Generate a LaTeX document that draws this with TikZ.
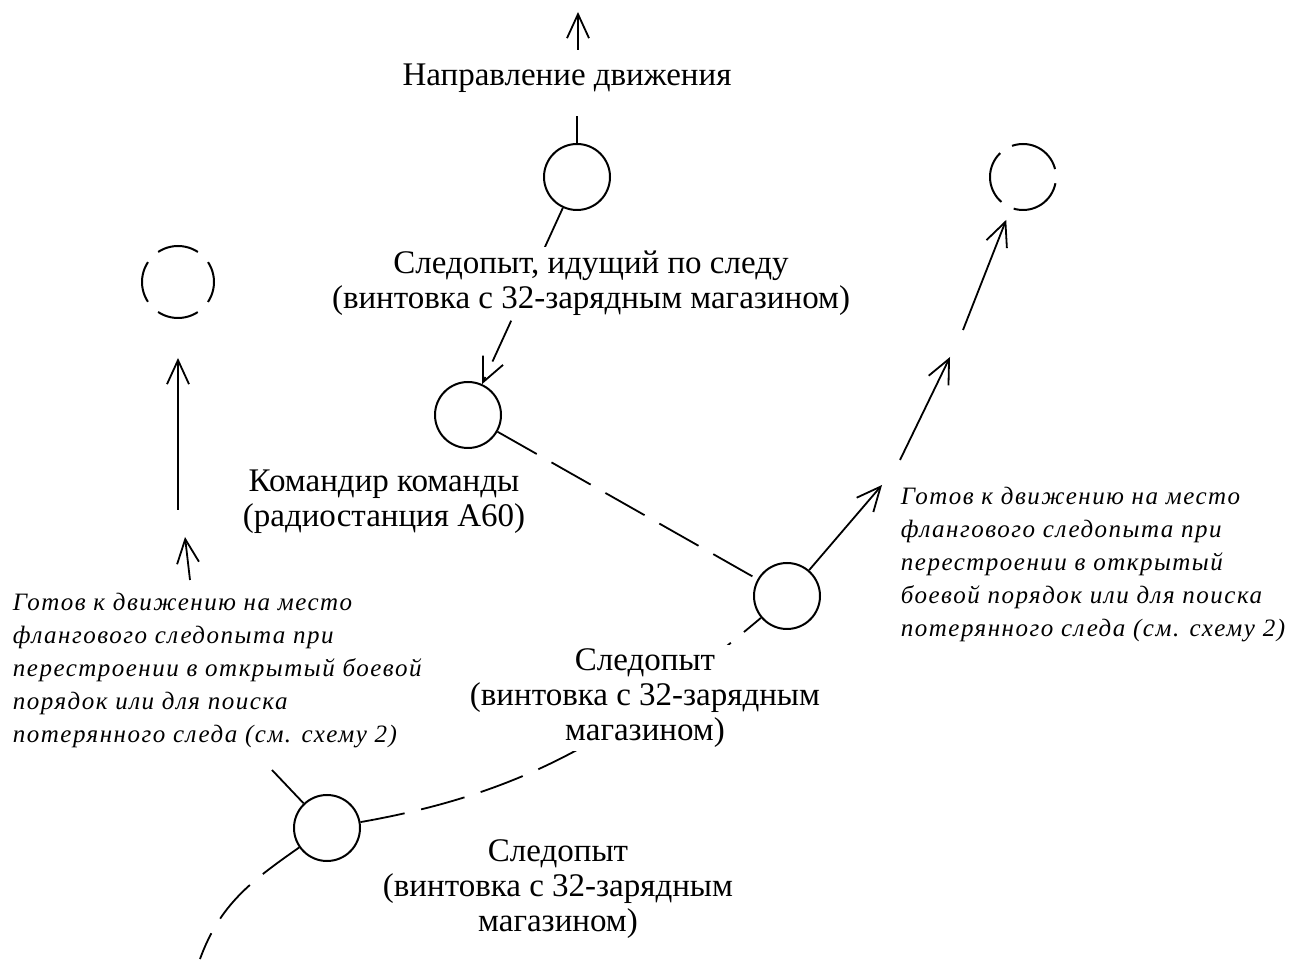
\documentclass[tikz,border=0pt]{standalone}
\usepackage{fontspec}
\setmainfont{Liberation Serif}
\newfontfamily\notefont{Liberation Serif Italic}[LetterSpace=6]
\usetikzlibrary{arrows.meta}

\tikzset{
  man/.style={draw, circle, line width=2pt, minimum size=66pt, inner sep=0pt},
  ghost/.style={man, dash pattern=on 42pt off 14.5pt, dash phase=21pt},
  trail/.style={dash pattern=on 45pt off 17pt},
  arr/.style={-{Straight Barb[length=24pt,width=22pt]}},
  lbl/.style={font=\fontsize{33}{35}\selectfont, align=center, fill=white, inner sep=4pt},
  note/.style={font=\notefont\fontsize{25}{33}\selectfont, align=left, inner sep=0pt}
}

\begin{document}
\begin{tikzpicture}[x=1pt, y=1pt, line width=1.8pt]
  \useasboundingbox (0,0) rectangle (1296,959);

  % soldiers
  \node[man] (lead) at (577,782) {};
  \node[man] (cmd) at (468,544) {};
  \node[man] (flank) at (787,363) {};
  \node[man] (rear) at (327,131) {};

  % places to move to
  \node[ghost, minimum size=72pt] (ghostL) at (178,677) {};
  \node[ghost, dash pattern=on 55pt off 14pt, dash phase=-8pt] (ghostR) at (1023,782) {};

  \coordinate (leadtick) at (577,843);
  \coordinate (dirtail) at (578,909);
  \coordinate (dirhead) at (578,947);
  \coordinate (fr1) at (882,474);
  \coordinate (fr2) at (900,499);
  \coordinate (fr3) at (950,602);
  \coordinate (fr4) at (963,629);
  \coordinate (fl1) at (178,449);
  \coordinate (fl2) at (190,379);
  \coordinate (fl3) at (185,422);
  \coordinate (rl1) at (272,189);
  \coordinate (rl2) at (200,0);

  \draw (lead) -- (leadtick);
  \draw[arr] (dirtail) -- (dirhead);
  \draw[trail, arr] (lead) -- (cmd);
  \draw[trail] (cmd) -- (flank);
  \draw[arr] (flank) -- (fr1);
  \draw[arr] (fr2) -- (fr3);
  \draw[arr, shorten >=12pt] (fr4) -- (ghostR);
  \draw[arr, shorten >=39pt] (fl1) -- (ghostL);
  \draw[arr] (fl2) -- (fl3);
  \draw (rear) -- (rl1);
  \draw[trail] (rear) to[out=10, in=-140] (flank);
  \draw[trail] (rear) to[out=215, in=70] (rl2);

  % labels
  \node[lbl] (dir) at (567,881) {Направление движения};
  \node[lbl] (leadlbl) at (591,676) {Следопыт, идущий по следу\\(винтовка с 32-зарядным магазином)};
  \node[lbl] (cmdlbl) at (384,457) {Командир команды\\(радиостанция А60)};
  \node[lbl] (flanklbl) at (645,261) {Следопыт\\(винтовка с 32-зарядным\\магазином)};
  \node[lbl] (rearlbl) at (558,70) {Следопыт\\(винтовка с 32-зарядным\\магазином)};

  \node[note, anchor=west] (noteL) at (12,288) {Готов к движению на место\\флангового следопыта при\\перестроении в открытый боевой\\порядок или для поиска\\потерянного следа (см. схему 2)};
  \node[note, anchor=west] (noteR) at (900,394) {Готов к движению на место\\флангового следопыта при\\перестроении в открытый\\боевой порядок или для поиска\\потерянного следа (см. схему 2)};
\end{tikzpicture}
\end{document}
